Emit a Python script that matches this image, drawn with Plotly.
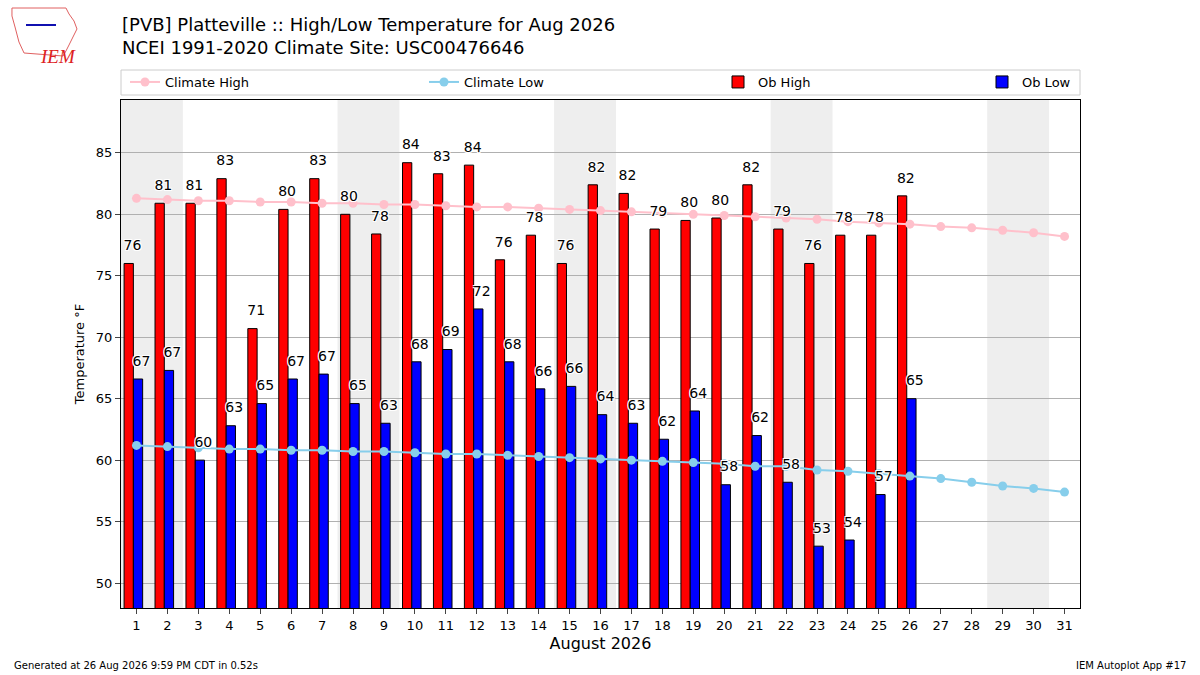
import plotly.graph_objects as go

# Data
days = list(range(1, 32))
ob_days = list(range(1, 27))

ob_high = [76.0, 80.9, 80.9, 82.9, 70.7, 80.4, 82.9, 80.0, 78.4, 84.2,
           83.3, 84.0, 76.3, 78.3, 76.0, 82.4, 81.7, 78.8, 79.5, 79.7,
           82.4, 78.8, 76.0, 78.3, 78.3, 81.5]
ob_low = [66.6, 67.3, 60.0, 62.8, 64.6, 66.6, 67.0, 64.6, 63.0, 68.0,
          69.0, 72.3, 68.0, 65.8, 66.0, 63.7, 63.0, 61.7, 64.0, 58.0,
          62.0, 58.2, 53.0, 53.5, 57.2, 65.0]

climate_high = [81.3, 81.2, 81.1, 81.1, 81.0, 81.0, 80.9, 80.9, 80.8, 80.8,
                80.7, 80.6, 80.6, 80.5, 80.4, 80.3, 80.2, 80.1, 80.0, 79.9,
                79.8, 79.7, 79.6, 79.4, 79.3, 79.2, 79.0, 78.9, 78.7, 78.5, 78.2]
climate_low = [61.2, 61.1, 61.0, 60.9, 60.9, 60.8, 60.8, 60.7, 60.7, 60.6,
               60.5, 60.5, 60.4, 60.3, 60.2, 60.1, 60.0, 59.9, 59.8, 59.7,
               59.5, 59.5, 59.2, 59.1, 58.9, 58.7, 58.5, 58.2, 57.9, 57.7, 57.4]

# weekend starts (Saturdays) for shading
saturdays = [1, 8, 15, 22, 29]

font = 'DejaVu Sans'
halo = '-1px -1px 0 #fff, 1px -1px 0 #fff, -1px 1px 0 #fff, 1px 1px 0 #fff'

# plot area in pixels, used to place the things outside of it
L, R, T, B = 121, 1080, 100, 608


def px(x, y):
    return (x - L) / (R - L), (B - y) / (B - T)


fig = go.Figure()

# Bars
fig.add_trace(go.Bar(
    x=ob_days, y=ob_high, name='Ob High',
    width=0.3, offset=-0.4,
    marker=dict(color='red', line=dict(color='black', width=1)),
    legend='legend3',
))
fig.add_trace(go.Bar(
    x=ob_days, y=ob_low, name='Ob Low',
    width=0.3, offset=-0.1,
    marker=dict(color='blue', line=dict(color='black', width=1)),
    legend='legend4',
))

# Climate lines
fig.add_trace(go.Scatter(
    x=days, y=climate_high, name='Climate High', mode='lines+markers',
    line=dict(color='pink', width=2), marker=dict(color='pink', size=9),
    legend='legend',
))
fig.add_trace(go.Scatter(
    x=days, y=climate_low, name='Climate Low', mode='lines+markers',
    line=dict(color='skyblue', width=2), marker=dict(color='skyblue', size=9),
    legend='legend2',
))

# Value labels on top of everything (invisible markers push the text up)
fig.add_trace(go.Scatter(
    x=[d - 0.13 for d in ob_days], y=ob_high, mode='text+markers',
    marker=dict(size=14, opacity=0),
    text=[f'{v:.0f}' for v in ob_high], textposition='top center',
    textfont=dict(family=font, size=14, color='black', shadow=halo),
    showlegend=False, hoverinfo='skip', cliponaxis=False,
))
fig.add_trace(go.Scatter(
    x=[d + 0.16 for d in ob_days], y=ob_low, mode='text+markers',
    marker=dict(size=14, opacity=0),
    text=[f'{v:.0f}' for v in ob_low], textposition='top center',
    textfont=dict(family=font, size=14, color='black', shadow=halo),
    showlegend=False, hoverinfo='skip', cliponaxis=False,
))

# Weekend shading
for s in saturdays:
    fig.add_shape(type='rect', xref='x', yref='paper',
                  x0=s - 0.5, x1=s + 1.5, y0=0, y1=1,
                  fillcolor='#eeeeee', line_width=0, layer='below')

# Legend frame spanning the plot width
fig.add_shape(type='rect', xref='paper', yref='paper',
              x0=0, x1=1, y0=px(0, 95)[1], y1=px(0, 70)[1],
              line=dict(color='#cccccc', width=1), fillcolor='rgba(0,0,0,0)')

legend_common = dict(orientation='h', yanchor='middle', y=px(0, 82)[1],
                     xanchor='left', bgcolor='rgba(0,0,0,0)',
                     font=dict(family=font, size=13))

fig.update_layout(
    width=1200, height=675,
    margin=dict(l=L, r=1200 - R, t=T, b=675 - B),
    plot_bgcolor='white', paper_bgcolor='white',
    font=dict(family=font, size=13, color='black'),
    barmode='overlay',
    legend=dict(x=px(125, 0)[0], **legend_common),
    legend2=dict(x=px(424, 0)[0], **legend_common),
    legend3=dict(x=px(718, 0)[0], **legend_common),
    legend4=dict(x=px(982, 0)[0], **legend_common),
    xaxis=dict(
        range=[0.5, 31.5], tickvals=days, ticks='outside', ticklen=5,
        showgrid=False, zeroline=False,
        showline=True, linecolor='black', linewidth=1, mirror=True,
        tickfont=dict(size=13),
        title=dict(text='August 2026', font=dict(size=16), standoff=6),
    ),
    yaxis=dict(
        range=[47.97, 89.3], tickvals=[50, 55, 60, 65, 70, 75, 80, 85],
        ticks='outside', ticklen=5,
        showgrid=True, gridcolor='#b0b0b0', gridwidth=1, zeroline=False,
        showline=True, linecolor='black', linewidth=1, mirror=True,
        tickfont=dict(size=13),
        title=dict(text='Temperature °F', font=dict(size=13), standoff=8),
    ),
)

# Title lines
for text, y in [('[PVB] Platteville :: High/Low Temperature for Aug 2026', 24),
                ('NCEI 1991-2020 Climate Site: USC00476646', 48)]:
    xx, yy = px(120, y)
    fig.add_annotation(text=text, xref='paper', yref='paper', x=xx, y=yy,
                       xanchor='left', yanchor='middle', showarrow=False,
                       font=dict(family=font, size=18))

# Logo stand-in: rough state outline, emblem and IEM text
outline = [(12, 8), (66, 8), (69, 14), (74, 21), (77, 29), (73, 37),
           (69, 45), (66, 51), (63, 56), (24, 53), (19, 42), (15, 27), (12, 16)]
pts = [px(x, y) for x, y in outline]
path = 'M ' + ' L '.join(f'{a:.4f},{b:.4f}' for a, b in pts) + ' Z'
fig.add_shape(type='path', xref='paper', yref='paper', path=path,
              line=dict(color='#e06060', width=1))
e0, e1 = px(26, 25), px(56, 25)
fig.add_shape(type='line', xref='paper', yref='paper',
              x0=e0[0], y0=e0[1], x1=e1[0], y1=e1[1],
              line=dict(color='#1010b0', width=2))
fig.add_annotation(text='<i>IEM</i>', xref='paper', yref='paper',
                   x=px(38, 44)[0], y=px(38, 44)[1], showarrow=False,
                   font=dict(family='Liberation Serif', size=19, color='#dd2222'))

# Footer
fx, fy = px(12, 665)
fig.add_annotation(text='Generated at 26 Aug 2026 9:59 PM CDT in 0.52s',
                   xref='paper', yref='paper', x=fx, y=fy,
                   xanchor='left', yanchor='middle',
                   showarrow=False, font=dict(size=10))
fig.add_annotation(text='IEM Autoplot App #17',
                   xref='paper', yref='paper', x=px(1188, 0)[0], y=fy,
                   xanchor='right', yanchor='middle',
                   showarrow=False, font=dict(size=10))

fig.write_html('out.html', config={'displayModeBar': False},
               post_script="document.body.style.margin='0';")
